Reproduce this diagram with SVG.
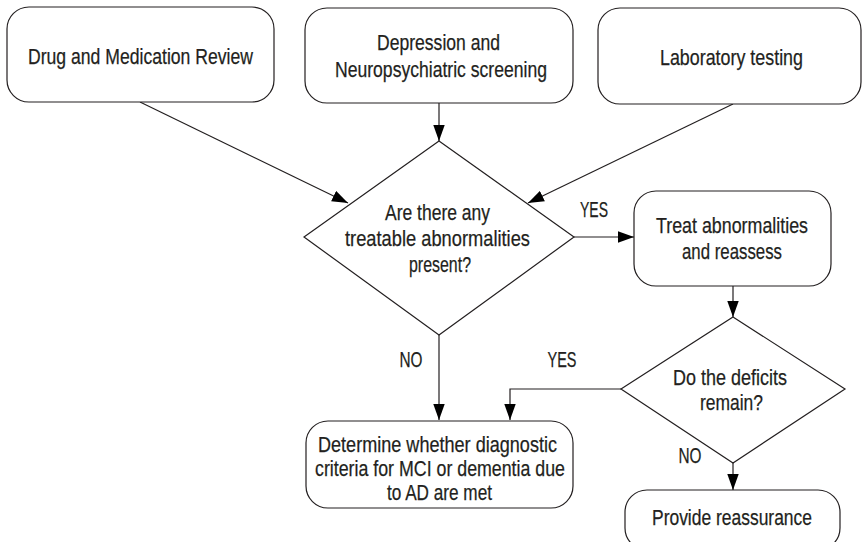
<svg xmlns="http://www.w3.org/2000/svg" width="863" height="542" viewBox="0 0 863 542">
<style>
.box{fill:#fff;stroke:#231f20;stroke-width:1.2}
.ln{fill:none;stroke:#231f20;stroke-width:1.2}
text{font-family:"Liberation Sans",Arial,sans-serif;font-size:22.5px;fill:#231f20;stroke:#231f20;stroke-width:0.25;text-anchor:middle}
</style>
<defs>
<marker id="ah" markerUnits="userSpaceOnUse" markerWidth="16" markerHeight="12" refX="14" refY="5" orient="auto" viewBox="0 0 14 10">
<path d="M0,0 L14,5 L0,10 z" fill="#000"/>
</marker>
</defs>
<g id="connectors">
<line class="ln" x1="140" y1="102" x2="348" y2="203" marker-end="url(#ah)"/>
<line class="ln" x1="439" y1="103" x2="439" y2="141" marker-end="url(#ah)"/>
<line class="ln" x1="733" y1="104" x2="528" y2="203" marker-end="url(#ah)"/>
<line class="ln" x1="574" y1="237" x2="634" y2="237" marker-end="url(#ah)"/>
<line class="ln" x1="733" y1="286" x2="733" y2="317" marker-end="url(#ah)"/>
<line class="ln" x1="439" y1="335" x2="439" y2="420" marker-end="url(#ah)"/>
<polyline class="ln" points="621,389 510,389 510,420" marker-end="url(#ah)"/>
<line class="ln" x1="733" y1="463" x2="733" y2="490" marker-end="url(#ah)"/>
<text x="594" y="217" textLength="28" lengthAdjust="spacingAndGlyphs">YES</text>
<text x="411" y="367" textLength="23" lengthAdjust="spacingAndGlyphs">NO</text>
<text x="562" y="367" textLength="29" lengthAdjust="spacingAndGlyphs">YES</text>
<text x="690" y="463" textLength="23" lengthAdjust="spacingAndGlyphs">NO</text>
</g>
<g id="drug">
<rect class="box" x="7" y="7" width="267" height="95" rx="22"/>
<text x="140.5" y="64" textLength="225" lengthAdjust="spacingAndGlyphs">Drug and Medication Review</text>
</g>
<g id="depression">
<rect class="box" x="305" y="8" width="268" height="95" rx="22"/>
<text x="438.5" y="50" textLength="123" lengthAdjust="spacingAndGlyphs">Depression and</text>
<text x="441" y="77" textLength="212" lengthAdjust="spacingAndGlyphs">Neuropsychiatric screening</text>
</g>
<g id="lab">
<rect class="box" x="598" y="8" width="263" height="96" rx="22"/>
<text x="731.5" y="65" textLength="143" lengthAdjust="spacingAndGlyphs">Laboratory testing</text>
</g>
<g id="decision1">
<polygon class="box" points="439,141 574,237 439,335 304,237"/>
<text x="437.5" y="220" textLength="105" lengthAdjust="spacingAndGlyphs">Are there any</text>
<text x="437.5" y="246" textLength="185" lengthAdjust="spacingAndGlyphs">treatable abnormalities</text>
<text x="440" y="272" textLength="62" lengthAdjust="spacingAndGlyphs">present?</text>
</g>
<g id="treat">
<rect class="box" x="634" y="191" width="197" height="95" rx="22"/>
<text x="732" y="233" textLength="152" lengthAdjust="spacingAndGlyphs">Treat abnormalities</text>
<text x="732" y="259" textLength="100" lengthAdjust="spacingAndGlyphs">and reassess</text>
</g>
<g id="decision2">
<polygon class="box" points="733,317 845,389 733,463 621,389"/>
<text x="730" y="385" textLength="114" lengthAdjust="spacingAndGlyphs">Do the deficits</text>
<text x="731.5" y="410" textLength="63" lengthAdjust="spacingAndGlyphs">remain?</text>
</g>
<g id="determine">
<rect class="box" x="306" y="421" width="267" height="87" rx="22"/>
<text x="437.5" y="452" textLength="239" lengthAdjust="spacingAndGlyphs">Determine whether diagnostic</text>
<text x="440" y="476" textLength="250" lengthAdjust="spacingAndGlyphs">criteria for MCI or dementia due</text>
<text x="439.5" y="500" textLength="105" lengthAdjust="spacingAndGlyphs">to AD are met</text>
</g>
<g id="reassurance">
<rect class="box" x="625" y="490" width="215" height="60" rx="22"/>
<text x="732" y="525" textLength="160" lengthAdjust="spacingAndGlyphs">Provide reassurance</text>
</g>
</svg>
